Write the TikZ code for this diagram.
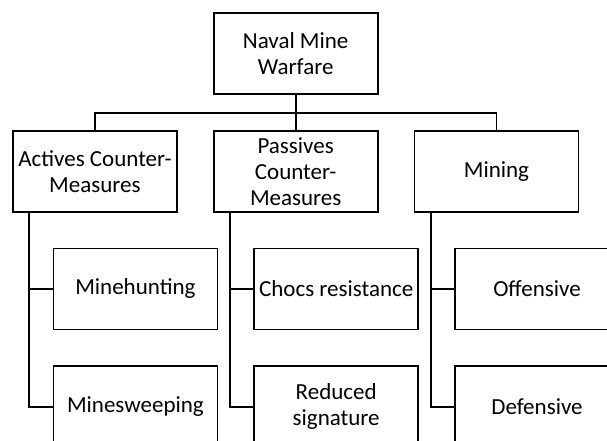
\documentclass[tikz,border=0pt]{standalone}
\usepackage{fontspec}
\setmainfont{Carlito}
\usetikzlibrary{positioning,calc}

\begin{document}
\begin{tikzpicture}[x=1pt,y=1pt,line width=1.8pt,every node/.style={draw,rectangle,fill=white,minimum width=164pt,minimum height=81pt,inner sep=1pt,align=center,font=\fontsize{23}{26}\selectfont}]
\useasboundingbox (0,0) rectangle (607,-441);
\clip (0,0) rectangle (607,-441);
\fill[white] (0,0) rectangle (607,-441);

\node (0) at (295.7,-53.8) {Naval Mine\\Warfare};
\node[below=35pt of 0] (2) {Passives\\Counter-\\Measures};
\node[left=35pt of 2] (1) {Actives Counter-\\Measures};
\node[right=35pt of 2] (3) {Mining};

% second level, shifted right under each parent
\node[anchor=north west] (4) at ([xshift=40.5pt,yshift=-34.5pt]1.south west) {Minehunting};
\node[below=35pt of 4] (5) {Minesweeping};
\node[anchor=north west] (6) at ([xshift=40.5pt,yshift=-34.5pt]2.south west) {Chocs resistance};
\node[below=35pt of 6] (7) {Reduced\\signature};
\node[anchor=north west] (8) at ([xshift=40.5pt,yshift=-34.5pt]3.south west) {Offensive};
\node[below=35pt of 8] (9) {Defensive};

\draw (0.south) -- (2.north);
\draw (1.north) |- ++(0,17.5) -| (3.north);
\foreach \p/\a/\b in {1/4/5,2/6/7,3/8/9}{
  \draw ([xshift=17pt]\p.south west) |- (\b.west);
  \draw ([xshift=17pt]\p.south west |- \a.west) -- (\a.west);
}
\end{tikzpicture}
\end{document}
